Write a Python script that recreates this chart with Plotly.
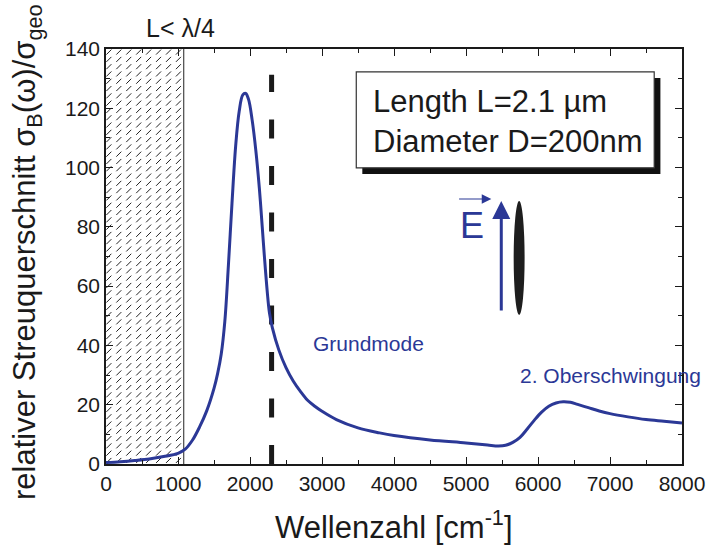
import numpy as np
import plotly.graph_objects as go

# ---- data ----
wavenumber = [0, 200, 400, 600, 800, 1000, 1100, 1200, 1300, 1400, 1500, 1550, 1600, 1650,
              1700, 1750, 1800, 1850, 1900, 1940, 1980, 2030, 2080, 2130, 2170, 2200, 2240,
              2270, 2310, 2400, 2500, 2600, 2700, 2800, 2900, 3000, 3200, 3500, 3800, 4000,
              4500, 5000, 5300, 5450, 5550, 5650, 5750, 5850, 5950, 6050, 6150, 6250, 6350,
              6450, 6550, 6700, 6850, 7000, 7250, 7500, 7750, 8000]
sigma_rel = [0.5, 0.8, 1.2, 1.7, 2.5, 3.6, 5.0, 8.0, 12.5, 18.0, 25.5, 30.5, 37.0, 48.0,
             67.0, 88.0, 107.0, 119.0, 124.5, 125.0, 123.0, 116.0, 106.0, 93.0, 80.0, 70.0, 58.0,
             51.0, 46.0, 38.5, 32.5, 28.0, 24.5, 21.5, 19.5, 17.8, 15.0, 12.2, 10.5, 9.6,
             8.1, 7.1, 6.4, 6.1, 6.3, 7.3, 9.0, 11.8, 14.8, 17.5, 19.5, 20.6, 21.0,
             20.8, 20.1, 19.0, 17.9, 17.0, 15.9, 15.0, 14.4, 13.8]

x_ticks = [0, 1000, 2000, 3000, 4000, 5000, 6000, 7000, 8000]
y_ticks = [0, 20, 40, 60, 80, 100, 120, 140]

hatch_limit = 1080      # L < lambda/4 region
dashed_pos = 2300       # vertical dashed marker

BLUE = "#2b3896"
FONT = "Liberation Sans"

fig = go.Figure()

# hatched region (pattern of short diagonal strokes)
hx = np.arange(40, hatch_limit, 138)
hy = np.arange(1.2, 140, 2.46)
HX, HY = np.meshgrid(hx, hy)
fig.add_trace(go.Scatter(x=HX.ravel(), y=HY.ravel(), mode="markers",
                         marker=dict(symbol="line-ne", size=5, line=dict(width=1, color="#222")),
                         hoverinfo="skip", showlegend=False, cliponaxis=True))
fig.add_trace(go.Scatter(x=[hatch_limit, hatch_limit], y=[0, 140], mode="lines",
                         line=dict(color="#222", width=1), hoverinfo="skip", showlegend=False))

# dashed vertical line
fig.add_trace(go.Scatter(x=[dashed_pos, dashed_pos], y=[0, 131.3], mode="lines",
                         line=dict(color="#1a1a1a", width=5, dash="19px,27.5px"),
                         hoverinfo="skip", showlegend=False))

# main curve
fig.add_trace(go.Scatter(x=wavenumber, y=sigma_rel, mode="lines",
                         line=dict(color=BLUE, width=3, shape="spline", smoothing=1.0),
                         showlegend=False))

# info box with shadow
fig.add_shape(type="rect", xref="x", yref="y", x0=3560, x1=7700, y0=97.8, y1=130.2,
              fillcolor="#111", line=dict(width=0), layer="above")
fig.add_shape(type="rect", xref="x", yref="y", x0=3476, x1=7614, y0=99.9, y1=132.3,
              fillcolor="white", line=dict(width=1.2, color="#333"), layer="above")

# ellipse (rod)
fig.add_shape(type="circle", xref="x", yref="y", x0=5662, x1=5814, y0=50.3, y1=88.7,
              fillcolor="#1e1e1e", line=dict(width=0), layer="above")

# arrows drawn as lines with arrowheads (annotations without text)
fig.add_annotation(x=5490, y=88.7, ax=5490, ay=51.3, xref="x", yref="y", axref="x", ayref="y",
                   text="", showarrow=True, arrowhead=2, arrowsize=1.2, arrowwidth=3,
                   arrowcolor=BLUE)
fig.add_annotation(x=5352, y=89.4, ax=4883, ay=89.4, xref="x", yref="y", axref="x", ayref="y",
                   text="", showarrow=True, arrowhead=2, arrowsize=1.6, arrowwidth=1.2,
                   arrowcolor=BLUE)

texts = [
    dict(x=3680, y=122.2, xref="x", yref="y", text="Length L=2.1 µm", showarrow=False,
         xanchor="left", yanchor="middle", font=dict(size=31, color="#1a1a1a", family=FONT)),
    dict(x=3680, y=108.8, xref="x", yref="y", text="Diameter D=200nm", showarrow=False,
         xanchor="left", yanchor="middle", font=dict(size=31, color="#1a1a1a", family=FONT)),
    dict(x=1035, y=1.05, xref="x", yref="paper", text="L< λ/4", showarrow=False,
         xanchor="center", yanchor="middle", font=dict(size=25, color="#1a1a1a", family=FONT)),
    dict(x=2850, y=40.8, xref="x", yref="y", text="Grundmode", showarrow=False,
         xanchor="left", yanchor="middle", font=dict(size=21, color=BLUE, family=FONT)),
    dict(x=5720, y=29.7, xref="x", yref="y", text="2. Oberschwingung", showarrow=False,
         xanchor="left", yanchor="middle", font=dict(size=21, color=BLUE, family=FONT)),
    dict(x=5090, y=80.5, xref="x", yref="y", text="E", showarrow=False,
         xanchor="center", yanchor="middle", font=dict(size=36, color=BLUE, family=FONT)),
    dict(x=-0.136, y=0.51, xref="paper", yref="paper", textangle=-90,
         text="relativer Streuquerschnitt σ<sub>B</sub>(ω)/σ<sub>geo</sub>", showarrow=False,
         xanchor="center", yanchor="middle", font=dict(size=31, color="#1a1a1a", family=FONT)),
    dict(x=0.5, y=-0.147, xref="paper", yref="paper",
         text="Wellenzahl [cm<sup>-1</sup>]", showarrow=False,
         xanchor="center", yanchor="middle", font=dict(size=31, color="#1a1a1a", family=FONT)),
]
for t in texts:
    fig.add_annotation(**t)

axis_common = dict(showgrid=False, zeroline=False, showline=True, linecolor="#1a1a1a",
                   linewidth=1.5, mirror="allticks", ticks="inside", ticklen=7, tickwidth=1.2,
                   tickcolor="#1a1a1a", tickfont=dict(size=21, color="#1a1a1a", family=FONT))

fig.update_layout(
    width=717, height=549,
    margin=dict(l=106, r=31, t=49, b=85),
    paper_bgcolor="white", plot_bgcolor="white",
    xaxis=dict(range=[0, 8000], tickvals=x_ticks, ticktext=[str(v) for v in x_ticks],
               minor=dict(dtick=500, ticks="inside", ticklen=4, tickcolor="#1a1a1a"),
               **axis_common),
    yaxis=dict(range=[0, 140], tickvals=y_ticks, ticktext=[str(v) for v in y_ticks],
               minor=dict(dtick=10, ticks="inside", ticklen=4, tickcolor="#1a1a1a"),
               **axis_common),
    font=dict(family=FONT),
)

fig.write_html("out.html")
